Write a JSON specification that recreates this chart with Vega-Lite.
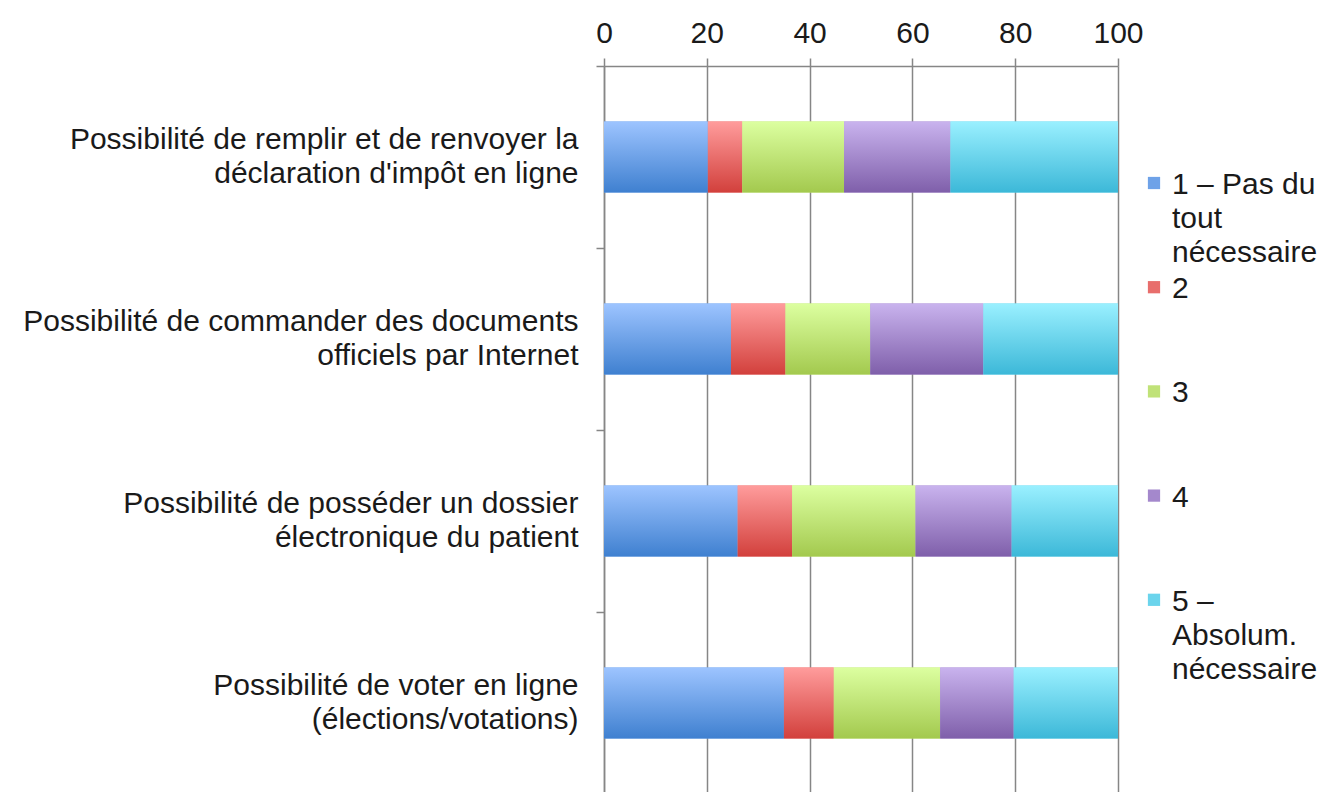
{
  "$schema": "https://vega.github.io/schema/vega-lite/v6.json",
  "width": 514,
  "height": 728,
  "autosize": {"type": "none"},
  "padding": {"left": 604, "top": 66, "right": 207, "bottom": 0},
  "background": "white",
  "config": {"font": "Liberation Sans", "view": {"stroke": null}},
  "data": {
    "values": [
      {"question": "Possibilité de remplir et de renvoyer la déclaration d'impôt en ligne", "level": "1 – Pas du tout nécessaire", "value": 20.2},
      {"question": "Possibilité de remplir et de renvoyer la déclaration d'impôt en ligne", "level": "2", "value": 6.7},
      {"question": "Possibilité de remplir et de renvoyer la déclaration d'impôt en ligne", "level": "3", "value": 19.8},
      {"question": "Possibilité de remplir et de renvoyer la déclaration d'impôt en ligne", "level": "4", "value": 20.7},
      {"question": "Possibilité de remplir et de renvoyer la déclaration d'impôt en ligne", "level": "5 – Absolum. nécessaire", "value": 32.6},
      {"question": "Possibilité de commander des documents officiels par Internet", "level": "1 – Pas du tout nécessaire", "value": 24.7},
      {"question": "Possibilité de commander des documents officiels par Internet", "level": "2", "value": 10.6},
      {"question": "Possibilité de commander des documents officiels par Internet", "level": "3", "value": 16.5},
      {"question": "Possibilité de commander des documents officiels par Internet", "level": "4", "value": 22.0},
      {"question": "Possibilité de commander des documents officiels par Internet", "level": "5 – Absolum. nécessaire", "value": 26.2},
      {"question": "Possibilité de posséder un dossier électronique du patient", "level": "1 – Pas du tout nécessaire", "value": 26.0},
      {"question": "Possibilité de posséder un dossier électronique du patient", "level": "2", "value": 10.6},
      {"question": "Possibilité de posséder un dossier électronique du patient", "level": "3", "value": 24.0},
      {"question": "Possibilité de posséder un dossier électronique du patient", "level": "4", "value": 18.7},
      {"question": "Possibilité de posséder un dossier électronique du patient", "level": "5 – Absolum. nécessaire", "value": 20.7},
      {"question": "Possibilité de voter en ligne (élections/votations)", "level": "1 – Pas du tout nécessaire", "value": 35.0},
      {"question": "Possibilité de voter en ligne (élections/votations)", "level": "2", "value": 9.7},
      {"question": "Possibilité de voter en ligne (élections/votations)", "level": "3", "value": 20.7},
      {"question": "Possibilité de voter en ligne (élections/votations)", "level": "4", "value": 14.3},
      {"question": "Possibilité de voter en ligne (élections/votations)", "level": "5 – Absolum. nécessaire", "value": 20.3}
    ]
  },
  "encoding": {
    "x": {
      "field": "value",
      "type": "quantitative",
      "stack": "zero",
      "scale": {"domain": [0, 100], "nice": false},
      "axis": {
        "orient": "top",
        "title": null,
        "values": [0, 20, 40, 60, 80, 100],
        "domainColor": "#868686",
        "domainWidth": 1.5,
        "tickColor": "#868686",
        "tickWidth": 1.5,
        "tickSize": 8,
        "gridColor": "#868686",
        "gridWidth": 1.5,
        "labelFlush": false,
        "labelPadding": 10,
        "labelFontSize": 30,
        "labelColor": "#1a1a1a"
      }
    }
  },
  "resolve": {"scale": {"y": "independent"}, "axis": {"y": "independent"}},
  "layer": [
    {
      "mark": {"type": "bar"},
      "encoding": {
        "y": {
          "field": "question",
          "type": "nominal",
          "sort": null,
          "scale": {"paddingInner": 0.61, "paddingOuter": 0.305},
          "axis": {
            "orient": "left",
            "title": null,
            "domainColor": "#868686",
            "domainWidth": 1.5,
            "ticks": false,
            "labelPadding": 26,
            "labelOffset": -17,
            "labelFontSize": 30,
            "labelLineHeight": 34,
            "labelColor": "#1a1a1a",
            "labelLimit": 700,
            "labelAlign": "right",
            "labelExpr": "datum.value == \"Possibilité de remplir et de renvoyer la déclaration d'impôt en ligne\" ? [\"Possibilité de remplir et de renvoyer la\", \"déclaration d'impôt en ligne\"] : datum.value == \"Possibilité de commander des documents officiels par Internet\" ? [\"Possibilité de commander des documents\", \"officiels par Internet\"] : datum.value == \"Possibilité de posséder un dossier électronique du patient\" ? [\"Possibilité de posséder un dossier\", \"électronique du patient\"] : [\"Possibilité de voter en ligne\", \"(élections/votations)\"]"
          }
        },
        "color": {
          "field": "level",
          "type": "nominal",
          "scale": {
            "domain": ["1 – Pas du tout nécessaire", "2", "3", "4", "5 – Absolum. nécessaire"],
            "range": ["#6ea2e8", "#e86e6c", "#c0e278", "#a488cc", "#6bd4ec"]
          },
          "legend": {
            "title": null,
            "orient": "none",
            "legendX": 535,
            "legendY": 102,
            "padding": 0,
            "symbolType": "square",
            "symbolSize": 150,
            "symbolStrokeWidth": 0,
            "labelFontSize": 30,
            "labelColor": "#1a1a1a",
            "labelBaseline": "top",
            "labelOffset": 3,
            "labelLimit": 400,
            "rowPadding": 4.2,
            "labelExpr": "datum.label == '1 – Pas du tout nécessaire' ? ['1 – Pas du', 'tout', 'nécessaire'] : datum.label == '5 – Absolum. nécessaire' ? ['5 –', 'Absolum.', 'nécessaire'] : [datum.label, '', '']",
            "encode": {
              "labels": {"update": {"dy": {"value": -13}, "lineHeight": {"value": 34}}}
            }
          }
        }
      }
    },
    {
      "mark": {
        "type": "bar",
        "fill": {"expr": "{gradient: 'linear', x1: 0, y1: 0, x2: 0, y2: 1, stops: datum.level == '2' ? [{offset: 0, color: '#ff9c9c'}, {offset: 1, color: '#d2403c'}] : datum.level == '3' ? [{offset: 0, color: '#dcffa0'}, {offset: 1, color: '#a3c94e'}] : datum.level == '4' ? [{offset: 0, color: '#c9b3ee'}, {offset: 1, color: '#7f5faa'}] : datum.level == '5 – Absolum. nécessaire' ? [{offset: 0, color: '#9af0ff'}, {offset: 1, color: '#3cb8d8'}] : [{offset: 0, color: '#9dc4ff'}, {offset: 1, color: '#3f80d0'}]}"}
      },
      "encoding": {
        "y": {
          "field": "question",
          "type": "nominal",
          "sort": null,
          "scale": {"paddingInner": 0.61, "paddingOuter": 0.305},
          "axis": null
        },
        "detail": {"field": "level", "type": "nominal"}
      }
    },
    {
      "mark": {"type": "bar", "opacity": 0},
      "encoding": {
        "y": {
          "field": "question",
          "type": "nominal",
          "sort": null,
          "scale": {"paddingInner": 0, "paddingOuter": 0},
          "axis": {
            "orient": "left",
            "title": null,
            "domain": false,
            "labels": false,
            "tickColor": "#868686",
            "tickWidth": 1.5,
            "tickSize": 8,
            "tickBand": "extent"
          }
        },
        "detail": {"field": "level", "type": "nominal"}
      }
    }
  ]
}
